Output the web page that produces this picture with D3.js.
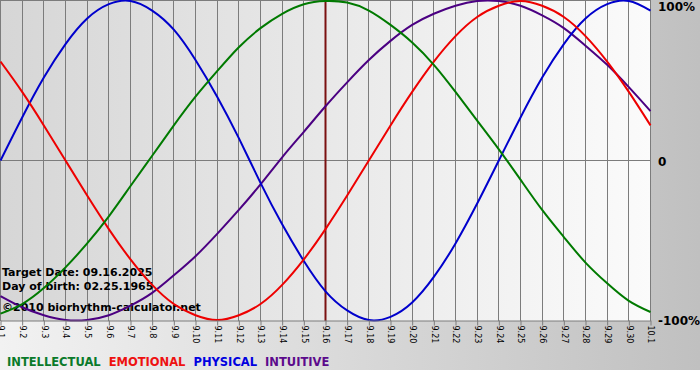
<!DOCTYPE html>
<html>
<head>
<meta charset="utf-8">
<script src="https://cdn.jsdelivr.net/npm/d3@7/dist/d3.min.js"></script>
<style>
  body { margin: 0; background: #fff; }
  svg { display: block; }
</style>
</head>
<body>
<svg id="chart" width="700" height="380"></svg>
<script>
// day labels along the bottom (9.1 .. 10.1)
const days = ["9.1","9.2","9.3","9.4","9.5","9.6","9.7","9.8","9.9","9.10",
  "9.11","9.12","9.13","9.14","9.15","9.16","9.17","9.18","9.19","9.20",
  "9.21","9.22","9.23","9.24","9.25","9.26","9.27","9.28","9.29","9.30","10.1"];

// values, -1 .. 1 per day
const intellectual = [-0.96,-0.90,-0.80,-0.67,-0.52,-0.35,-0.16,0.03,0.22,0.40,
  0.56,0.71,0.83,0.92,0.98,1.00,0.99,0.94,0.85,0.74,
  0.60,0.43,0.25,0.07,-0.12,-0.31,-0.48,-0.64,-0.77,-0.88,-0.95];
const emotional = [0.62,0.43,0.22,0.00,-0.22,-0.43,-0.62,-0.78,-0.90,-0.97,
  -1.00,-0.97,-0.90,-0.78,-0.62,-0.43,-0.22,0.00,0.22,0.43,
  0.62,0.78,0.90,0.97,1.00,0.97,0.90,0.78,0.62,0.43,0.22];
const physical = [0.00,0.27,0.52,0.73,0.89,0.98,1.00,0.94,0.82,0.63,
  0.40,0.14,-0.14,-0.40,-0.63,-0.82,-0.94,-1.00,-0.98,-0.89,
  -0.73,-0.52,-0.27,0.00,0.27,0.52,0.73,0.89,0.98,1.00,0.94];
const intuitive = [-0.85,-0.92,-0.97,-1.00,-1.00,-0.97,-0.91,-0.83,-0.72,-0.60,
  -0.46,-0.31,-0.15,0.02,0.18,0.34,0.49,0.63,0.75,0.85,
  0.92,0.97,1.00,1.00,0.97,0.91,0.83,0.72,0.60,0.46,0.31];

const targetDay = "9.16";
const infoLines = ["Target Date: 09.16.2025", "Day of birth: 02.25.1965", "\u00a92010 biorhythm-calculator.net"];
const yTicks = [1, 0, -1];
const yTickLabels = ["100%", "0", "-100%"];

const series = [
  { name: "INTUITIVE", values: intuitive, color: "#4b0082", legend: "#5c0a8c" },
  { name: "PHYSICAL", values: physical, color: "#0000cc", legend: "#0000e0" },
  { name: "EMOTIONAL", values: emotional, color: "#ee0000", legend: "#ee1111" },
  { name: "INTELLECTUAL", values: intellectual, color: "#007a00", legend: "#0a7a2a" }
];
const legendOrder = ["INTELLECTUAL", "EMOTIONAL", "PHYSICAL", "INTUITIVE"];

const svg = d3.select("#chart");
const plotW = 651, plotH = 321;

const x = d3.scalePoint().domain(days).range([0.5, 650.5]);
const y = d3.scaleLinear().domain([-1, 1]).range([320, 1]);

// backgrounds
const defs = svg.append("defs");
const outerGrad = defs.append("linearGradient").attr("id", "outer");
outerGrad.append("stop").attr("offset", "0%").attr("stop-color", "#f2f2f2");
outerGrad.append("stop").attr("offset", "100%").attr("stop-color", "#c0c0c0");
const plotGrad = defs.append("linearGradient").attr("id", "plotbg");
plotGrad.append("stop").attr("offset", "0%").attr("stop-color", "#d6d6d6");
plotGrad.append("stop").attr("offset", "100%").attr("stop-color", "#fbfbfb");

svg.append("rect").attr("width", 700).attr("height", 370).attr("fill", "url(#outer)");
svg.append("rect").attr("width", plotW).attr("height", plotH).attr("fill", "url(#plotbg)");

// grid
const grid = svg.append("g").attr("stroke", "#7c7c7c").attr("stroke-width", 1);
grid.selectAll("line.v").data(days).join("line")
  .attr("class", "v")
  .attr("x1", d => Math.floor(x(d)) + 0.5).attr("x2", d => Math.floor(x(d)) + 0.5)
  .attr("y1", 0).attr("y2", plotH);
grid.append("line").attr("x1", 0).attr("x2", plotW).attr("y1", 0.5).attr("y2", 0.5);
grid.append("line").attr("x1", 0).attr("x2", plotW)
  .attr("y1", Math.floor(y(0)) + 0.5).attr("y2", Math.floor(y(0)) + 0.5);

// target date marker
svg.append("line")
  .attr("x1", x(targetDay)).attr("x2", x(targetDay))
  .attr("y1", 0).attr("y2", plotH)
  .attr("stroke", "#7a1010").attr("stroke-width", 2);

// info text
svg.append("g")
  .attr("font-family", "'DejaVu Sans', Verdana, sans-serif")
  .attr("font-weight", "bold").attr("font-size", 11)
  .selectAll("text").data(infoLines).join("text")
  .attr("x", 2)
  .attr("y", (d, i) => [276, 290, 311][i])
  .text(d => d);

// curves
const line = d3.line()
  .x((d, i) => x(days[i]))
  .y(d => y(d))
  .curve(d3.curveNatural);

svg.append("g").selectAll("path").data(series).join("path")
  .attr("d", d => line(d.values))
  .attr("fill", "none")
  .attr("stroke", d => d.color)
  .attr("stroke-width", 2);

// bottom axis
const xAxis = svg.append("g")
  .attr("transform", `translate(0,${plotH - 0.5})`)
  .call(d3.axisBottom(x).tickSize(5).tickSizeOuter(0));
xAxis.select(".domain").attr("stroke", "#7c7c7c");
xAxis.selectAll(".tick line").attr("stroke", "#7c7c7c");
xAxis.selectAll(".tick text")
  .attr("transform", "rotate(90)")
  .attr("x", 5).attr("y", 0).attr("dy", "0.35em")
  .attr("text-anchor", "start")
  .attr("font-family", "'DejaVu Sans', Verdana, sans-serif")
  .attr("font-size", 8)
  .attr("fill", "#000");

// right axis labels
const yAxis = svg.append("g")
  .attr("transform", `translate(${plotW},0)`)
  .call(d3.axisRight(y).tickValues(yTicks).tickSize(0).tickPadding(7)
    .tickFormat((d, i) => yTickLabels[i]));
yAxis.select(".domain").remove();
yAxis.selectAll(".tick text")
  .attr("font-family", "'DejaVu Sans', Verdana, sans-serif")
  .attr("font-weight", "bold").attr("font-size", 12)
  .attr("fill", "#000")
  .attr("y", d => d === 1 ? 6 : 1);

// legend
const legend = svg.append("g")
  .attr("font-family", "'DejaVu Sans', Verdana, sans-serif")
  .attr("font-weight", "bold").attr("font-size", 11.5);
let lx = 7;
legendOrder.forEach(name => {
  const s = series.find(d => d.name === name);
  const t = legend.append("text").attr("x", lx).attr("y", 366)
    .attr("fill", s.legend).text(name);
  lx += t.node().getComputedTextLength() + 8;
});
</script>
</body>
</html>
